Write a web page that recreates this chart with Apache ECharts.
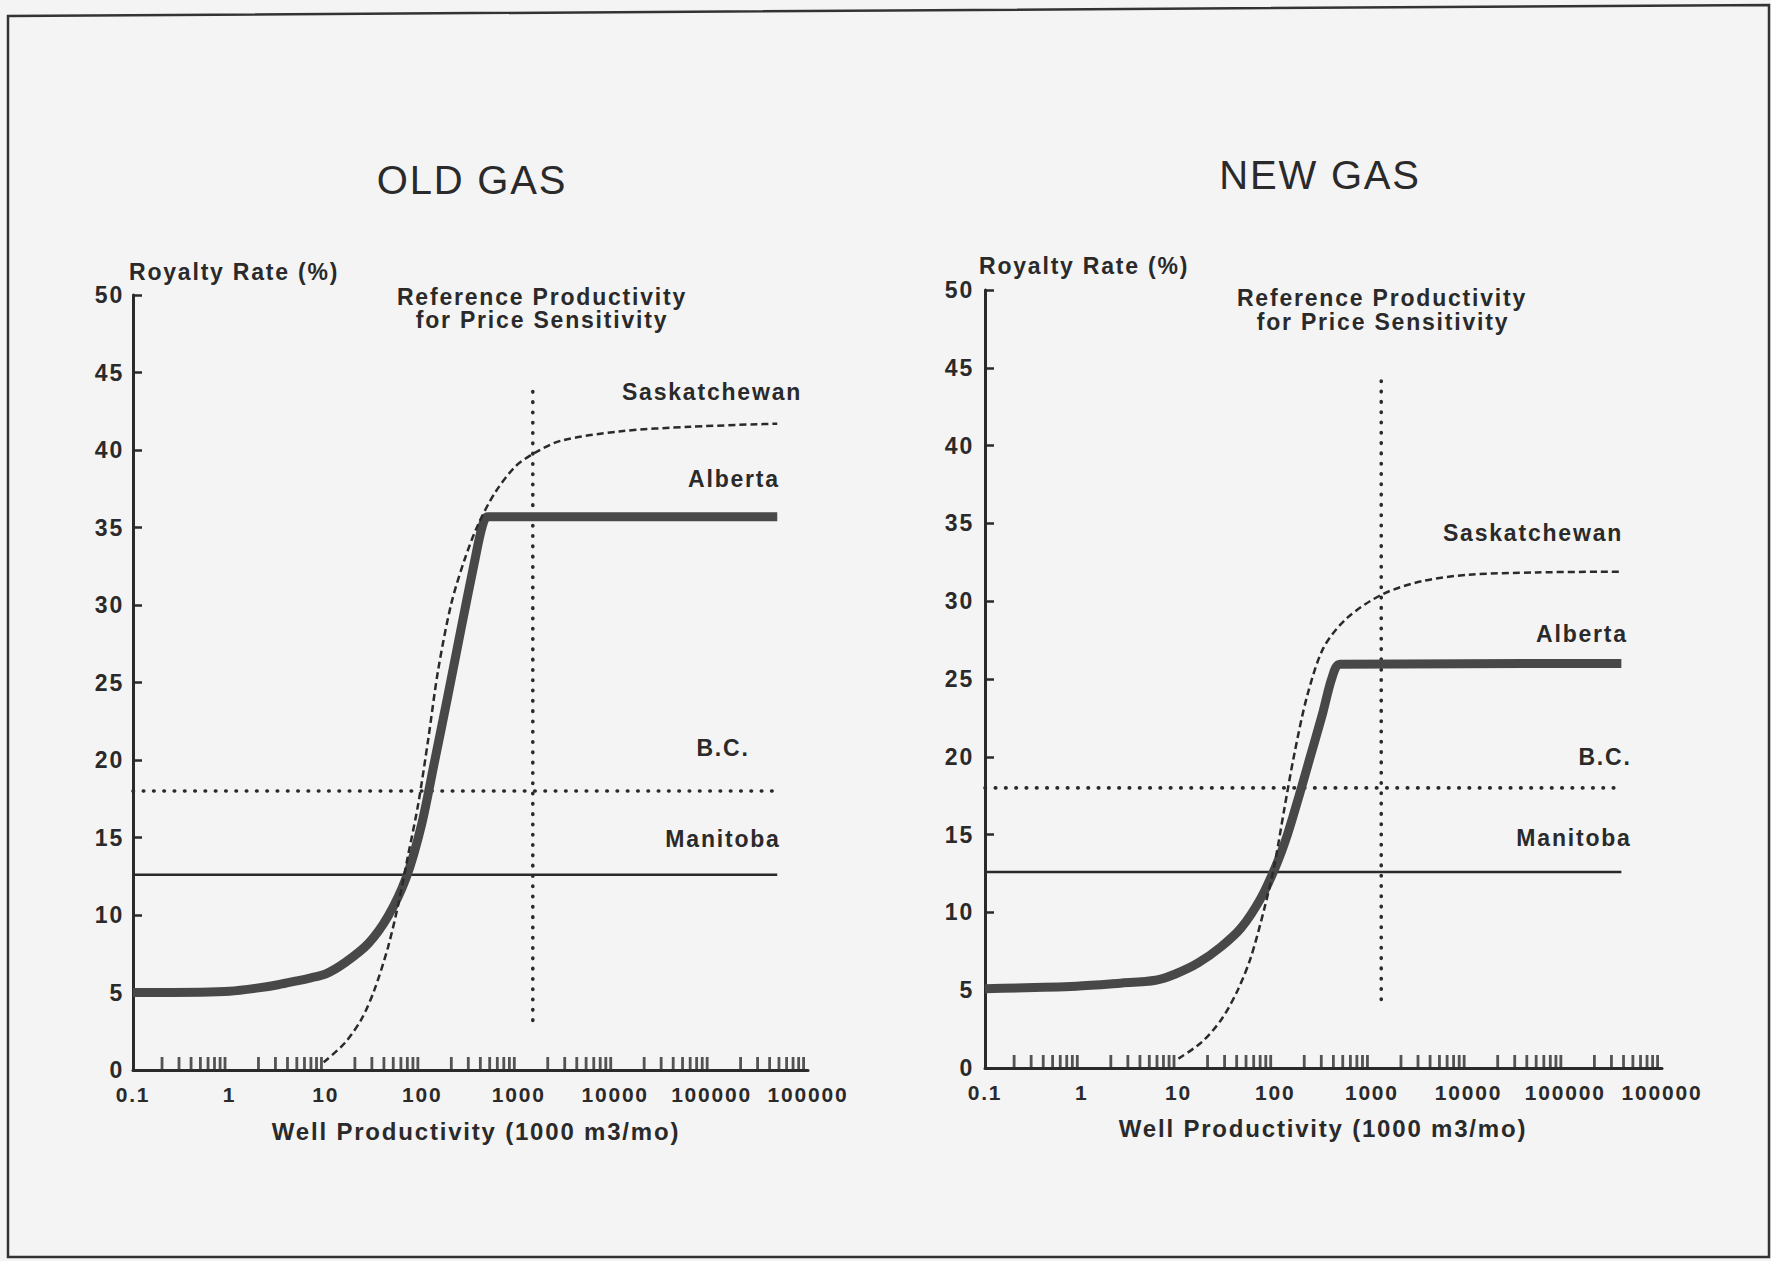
<!DOCTYPE html>
<html>
<head>
<meta charset="utf-8">
<script src="https://cdn.jsdelivr.net/npm/echarts@6/dist/echarts.min.js"></script>
<style>
  html, body { margin: 0; padding: 0; background: #f4f4f4; }
  #chart { width: 1771px; height: 1261px; }
  /* plotter-style lettering is loosely spaced */
  #chart svg text { letter-spacing: 1.8px; }
</style>
</head>
<body>
<div id="chart"></div>
<script>
// ---- axis definitions ----
const xTickLabels = ['0.1', '1', '10', '100', '1000', '10000', '100000', '100000'];
const minorTickDecades = [0.1, 1, 10, 100, 1000, 10000, 100000];
const minorTickSteps = [2, 3, 4, 5, 6, 7, 8, 9];
const yMin = 0, yMax = 50, yStep = 5;
const xMin = 0.1, xMax = 1000000;

// ---- OLD GAS: royalty rate (%) vs well productivity (1000 m3/mo) ----
const oldAlberta = [
  [0.1, 5.0], [0.5, 5.02], [1, 5.08], [2, 5.3], [3.2, 5.5], [5, 5.75], [7, 5.95], [10, 6.2],
  [16, 6.95], [27.5, 8.15], [44, 9.9], [68, 12.4], [98, 15.8], [134, 19.9],
  [185, 24.2], [253, 28.5], [347, 32.75], [420, 35.1], [480, 35.7], [480000, 35.7]
];
const oldSaskatchewan = [
  [9.5, 0.5], [15.7, 1.74], [23.5, 3.3], [32, 5.2], [44, 7.9], [56, 10.6], [71, 13.8],
  [91, 17.2], [115, 21.3], [146, 25.8], [200, 30.1], [277, 33.0], [380, 35.2],
  [562, 37.2], [910, 38.9], [1450, 39.8], [2750, 40.6], [11000, 41.2], [60000, 41.5],
  [480000, 41.7]
];
const oldBC = [[0.1, 18], [480000, 18]];
const oldManitoba = [[0.1, 12.6], [480000, 12.6]];
const oldReference = [[1400, 3.2], [1400, 43.9]];

// ---- NEW GAS ----
const newAlberta = [
  [0.1, 5.1], [0.88, 5.26], [2.5, 5.45], [5.8, 5.64], [9.3, 6.04], [16, 6.75],
  [27.7, 7.8], [44.5, 9.0], [71, 10.9], [102, 13.0], [134, 15.0], [177, 17.5],
  [233, 20.1], [307, 22.7], [388, 25.1], [468, 25.95], [380000, 26.0]
];
const newSaskatchewan = [
  [10, 0.6], [17.4, 1.66], [27.7, 3.1], [41, 5.0], [56, 7.1], [77, 10.2], [98, 13.0],
  [124, 16.6], [157, 20.1], [214, 23.9], [316, 27.0], [550, 28.9], [1290, 30.45],
  [3370, 31.3], [10000, 31.7], [50000, 31.85], [380000, 31.9]
];
const newBC = [[0.1, 18], [380000, 18]];
const newManitoba = [[0.1, 12.6], [380000, 12.6]];
const newReference = [[1250, 4.4], [1250, 44.5]];

// minor ticks at 2..9 within every decade, drawn upward from the x axis
const minorTicks = [];
minorTickDecades.forEach(d => minorTickSteps.forEach(s => minorTicks.push([d * s, 0])));

const INK = '#2a2a2a';
const FONT = "'Liberation Sans', Arial, sans-serif";

const panels = [
  { title: 'OLD GAS', alberta: oldAlberta, sask: oldSaskatchewan, bc: oldBC, manitoba: oldManitoba, ref: oldReference,
    grid: { left: 133, top: 295, width: 675, height: 775 }, labelMargin: 9 },
  { title: 'NEW GAS', alberta: newAlberta, sask: newSaskatchewan, bc: newBC, manitoba: newManitoba, ref: newReference,
    grid: { left: 985, top: 290, width: 677, height: 778 }, labelMargin: 11 }
];

const grids = [], xAxes = [], yAxes = [], series = [];
panels.forEach((p, i) => {
  grids.push(Object.assign({ containLabel: false }, p.grid));
  xAxes.push({
    type: 'log', logBase: 10, gridIndex: i, min: xMin, max: xMax, interval: 1, splitNumber: 7,
    axisLine: { lineStyle: { color: INK, width: 3 } },
    axisTick: { show: false },
    splitLine: { show: false },
    minorTick: { show: false },
    axisLabel: {
      margin: 14, color: INK, fontFamily: FONT, fontWeight: 'bold', fontSize: 21,
      formatter: v => xTickLabels[Math.round(Math.log10(v)) + 1]
    }
  });
  yAxes.push({
    type: 'value', gridIndex: i, min: yMin, max: yMax, interval: yStep,
    axisLine: { show: true, lineStyle: { color: INK, width: 3 } },
    axisTick: { show: true, inside: true, length: 9, lineStyle: { color: INK, width: 2.5 } },
    splitLine: { show: false },
    axisLabel: { margin: p.labelMargin, color: INK, fontFamily: FONT, fontWeight: 'bold', fontSize: 23 }
  });
  const common = { xAxisIndex: i, yAxisIndex: i, type: 'line', symbol: 'none', silent: true, animation: false };
  series.push(Object.assign({}, common, {
    name: 'Manitoba', data: p.manitoba, z: 3,
    lineStyle: { color: INK, width: 2.5 }
  }));
  series.push(Object.assign({}, common, {
    name: 'B.C.', data: p.bc, z: 3,
    lineStyle: { color: INK, width: 3.6, type: [0.5, 9.8], cap: 'round' }
  }));
  series.push(Object.assign({}, common, {
    name: 'Reference', data: p.ref, z: 3,
    lineStyle: { color: INK, width: 3.6, type: [0.5, 9.8], cap: 'round' }
  }));
  series.push(Object.assign({}, common, {
    name: 'Alberta', data: p.alberta, z: 4, smooth: 0.3,
    lineStyle: { color: '#484848', width: 9, join: 'round' }
  }));
  series.push(Object.assign({}, common, {
    name: 'Saskatchewan', data: p.sask, z: 5, smooth: 0.3,
    lineStyle: { color: INK, width: 2.5, type: [7, 4] }
  }));
  series.push({
    type: 'scatter', xAxisIndex: i, yAxisIndex: i, data: minorTicks, silent: true, animation: false,
    symbol: 'rect', symbolSize: [2.8, 13], symbolOffset: [0, -6.5], z: 2,
    itemStyle: { color: INK }
  });
});

function label(text, x, y, opts) {
  opts = opts || {};
  return {
    type: 'text', x: x, y: y, silent: true, z: 10,
    style: {
      text: text, fill: INK,
      font: (opts.weight || 'bold') + ' ' + (opts.size || 23) + 'px ' + FONT,
      textAlign: opts.align || 'center', textVerticalAlign: 'middle', verticalAlign: 'middle'
    }
  };
}

const graphic = [
  // frame around the sheet
  { type: 'polygon', silent: true, z: 1,
    shape: { points: [[8, 16], [1769, 5], [1769, 1257], [8, 1257]] },
    style: { fill: 'none', stroke: '#333', lineWidth: 2.5 } },

  label('OLD GAS', 472, 180, { weight: 'normal', size: 40 }),
  label('Royalty Rate (%)', 129, 272, { align: 'left' }),
  label('Reference Productivity', 542, 297),
  label('for Price Sensitivity', 542, 320),
  label('Saskatchewan', 712, 392),
  label('Alberta', 734, 479),
  label('B.C.', 723, 748),
  label('Manitoba', 723, 839),
  label('Well Productivity (1000 m3/mo)', 476, 1131, { size: 24 }),

  label('NEW GAS', 1320, 175, { weight: 'normal', size: 40 }),
  label('Royalty Rate (%)', 979, 266, { align: 'left' }),
  label('Reference Productivity', 1382, 298),
  label('for Price Sensitivity', 1383, 322),
  label('Saskatchewan', 1533, 533),
  label('Alberta', 1582, 634),
  label('B.C.', 1605, 757),
  label('Manitoba', 1574, 838),
  label('Well Productivity (1000 m3/mo)', 1323, 1128, { size: 24 })
];

const chart = echarts.init(document.getElementById('chart'), null, { renderer: 'svg', width: 1771, height: 1261 });
chart.setOption({
  backgroundColor: '#f4f4f4',
  animation: false,
  grid: grids,
  xAxis: xAxes,
  yAxis: yAxes,
  series: series,
  graphic: graphic
});
</script>
</body>
</html>
